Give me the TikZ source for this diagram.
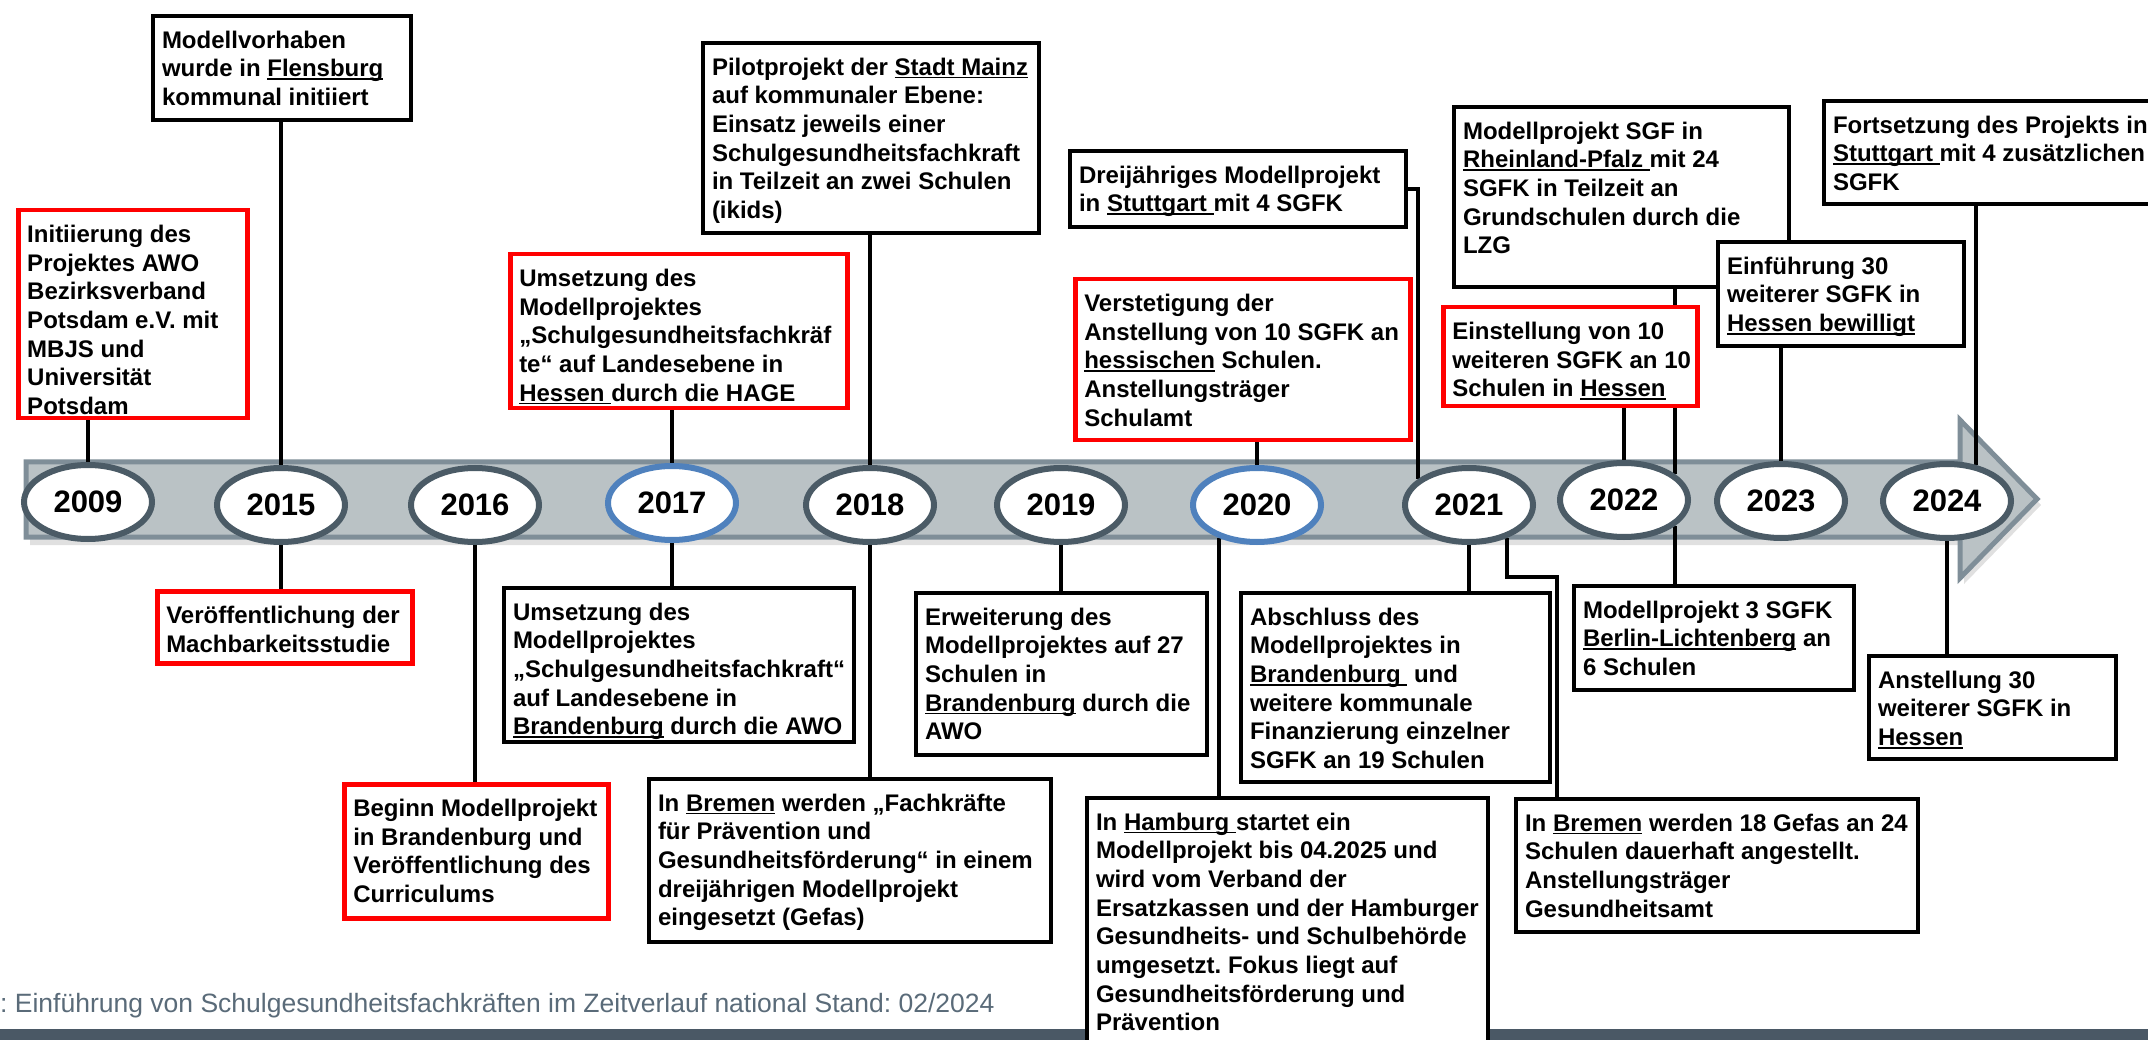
\documentclass[tikz,border=0pt]{standalone}
\usepackage{fontspec}
\setmainfont{Liberation Sans}
\usetikzlibrary{shapes.geometric}
\definecolor{band}{HTML}{BAC2C5}
\definecolor{bandedge}{HTML}{7F8E98}
\definecolor{ring}{HTML}{4B5B66}
\definecolor{ringblue}{HTML}{4F81BD}
\definecolor{capt}{HTML}{5A6B79}
\definecolor{foot}{HTML}{4A5865}
\definecolor{evred}{HTML}{FF0000}
\frenchspacing
\newsavebox\udbox
\newcommand{\ud}[1]{\sbox\udbox{#1}\leavevmode\usebox\udbox\llap{\raisebox{-3.2pt}{\rule{\wd\udbox}{1.6pt}}}}
\newcommand{\evtext}[3]{\parbox[c][#2pt][t]{#1pt}{\raggedright\leftskip=9pt\relax\vspace*{12pt}\strut #3}}
\pgfdeclarelayer{back}
\pgfdeclarelayer{lines}
\pgfsetlayers{back,lines,main}
\tikzset{
  ev/.style={draw=black, line width=4pt, fill=white, inner sep=0pt, anchor=north west,
    font=\bfseries\fontsize{24}{28.7}\selectfont},
  evr/.style={ev, draw=evred, line width=4.5pt},
  yr/.style={ellipse, draw=ring, line width=6pt, fill=white, minimum width=128pt,
    minimum height=74pt, inner sep=0pt, font=\bfseries\fontsize{31}{31}\selectfont},
  yrb/.style={yr, draw=ringblue},
  conn/.style={draw=black, line width=4pt},
}
\begin{document}
\begin{tikzpicture}[x=1pt,y=-1pt]
\useasboundingbox (0,0) rectangle (2148,1040);

% event boxes
\node[evr] (A) at (16,208) {\evtext{229}{208}{Initiierung des\\Projektes AWO\\Bezirksverband\\Potsdam e.V. mit\\MBJS und\\Universität\\Potsdam}};
\node[ev] (B) at (151,14) {\evtext{258}{104}{Modellvorhaben\\wurde in \ud{Flensburg}\\kommunal initiiert}};
\node[evr] (C) at (155,589) {\evtext{255}{72}{Veröffentlichung der\\Machbarkeitsstudie}};
\node[evr] (D) at (342,782) {\evtext{264}{134}{Beginn Modellprojekt\\in Brandenburg und\\Veröffentlichung des\\Curriculums}};
\node[evr] (E) at (508,252) {\evtext{337}{154}{Umsetzung des\\Modellprojektes\\„Schulgesundheitsfachkräf\\te“ auf Landesebene in\\\ud{Hessen }durch die HAGE}};
\node[ev] (F) at (502,586) {\evtext{350}{154}{Umsetzung des\\Modellprojektes\\„Schulgesundheitsfachkraft“\\auf Landesebene in\\\ud{Brandenburg} durch die AWO}};
\node[ev] (G) at (701,41) {\evtext{336}{190}{Pilotprojekt der \ud{Stadt Mainz}\\auf kommunaler Ebene:\\Einsatz jeweils einer\\Schulgesundheitsfachkraft\\in Teilzeit an zwei Schulen\\(ikids)}};
\node[ev] (H) at (647,777) {\evtext{402}{163}{In \ud{Bremen} werden „Fachkräfte\\für Prävention und\\Gesundheitsförderung“ in einem\\dreijährigen Modellprojekt\\eingesetzt (Gefas)}};
\node[ev] (I) at (914,591) {\evtext{291}{162}{Erweiterung des\\Modellprojektes auf 27\\Schulen in\\\ud{Brandenburg} durch die\\AWO}};
\node[ev] (J) at (1068,149) {\evtext{336}{76}{Dreijähriges Modellprojekt\\in \ud{Stuttgart }mit 4 SGFK}};
\node[evr] (K) at (1073,277) {\evtext{335}{161}{Verstetigung der\\Anstellung von 10 SGFK an\\\ud{hessischen} Schulen.\\Anstellungsträger\\Schulamt}};
\node[ev] (M) at (1239,591) {\evtext{309}{189}{Abschluss des\\Modellprojektes in\\\ud{Brandenburg } und\\weitere kommunale\\Finanzierung einzelner\\SGFK an 19 Schulen}};
\node[ev] (N) at (1514,797) {\evtext{402}{133}{In \ud{Bremen} werden 18 Gefas an 24\\Schulen dauerhaft angestellt.\\Anstellungsträger\\Gesundheitsamt}};
\node[ev] (P) at (1452,105) {\evtext{335}{180}{Modellprojekt SGF in\\\ud{Rheinland-Pfalz }mit 24\\SGFK in Teilzeit an\\Grundschulen durch die\\LZG}};
\node[evr] (O) at (1441,305) {\evtext{254}{99}{Einstellung von 10\\weiteren SGFK an 10\\Schulen in \ud{Hessen}}};
\node[ev] (Q) at (1572,584) {\evtext{280}{104}{Modellprojekt 3 SGFK\\\ud{Berlin-Lichtenberg} an\\6 Schulen}};
\node[ev] (R) at (1716,240) {\evtext{246}{104}{Einführung 30\\weiterer SGFK in\\\ud{Hessen bewilligt}}};
\node[ev] (S) at (1822,99) {\evtext{346}{103}{Fortsetzung des Projekts in\\\ud{Stuttgart }mit 4 zusätzlichen\\SGFK}};
\node[ev] (T) at (1867,654) {\evtext{247}{103}{Anstellung 30\\weiterer SGFK in\\\ud{Hessen}}};

% footer bar and caption
\node[ev] (L) at (1085,796) {\evtext{401}{270}{In \ud{Hamburg }startet ein\\Modellprojekt bis 04.2025 und\\wird vom Verband der\\Ersatzkassen und der Hamburger\\Gesundheits- und Schulbehörde\\umgesetzt. Fokus liegt auf\\Gesundheitsförderung und\\Prävention}};
\node[anchor=base west, inner sep=0pt, text=capt, font=\fontsize{26.5}{30}\selectfont] (cap) at (0,1012) {: Einführung von Schulgesundheitsfachkräften im Zeitverlauf national Stand: 02/2024};

% background, timeline band, footer
\begin{pgfonlayer}{back}
\fill[white] (0,0) rectangle (2148,1040);
\fill[foot] (0,1029) rectangle (2148,1045);
\fill[black, opacity=0.12] (30,468) -- (1964,468) -- (1964,426) -- (2041,505) -- (1964,584) -- (1964,545) -- (30,545) -- cycle;
\filldraw[fill=band, draw=bandedge, line width=5pt, line join=miter]
  (26,462) -- (1960,462) -- (1960,420) -- (2037,499) -- (1960,578) -- (1960,537) -- (26,537) -- cycle;
\end{pgfonlayer}

% year ellipses
\node[yr] (y2009) at (88,502) {2009};
\node[yr] (y2015) at (281,505) {2015};
\node[yr] (y2016) at (475,505) {2016};
\node[yrb] (y2017) at (672,503) {2017};
\node[yr] (y2018) at (870,505) {2018};
\node[yr] (y2019) at (1061,505) {2019};
\node[yrb] (y2020) at (1257,505) {2020};
\node[yr] (y2021) at (1469,505) {2021};
\node[yr] (y2022) at (1624,500) {2022};
\node[yr] (y2023) at (1781,501) {2023};
\node[yr] (y2024) at (1947,501) {2024};

% connectors
\begin{pgfonlayer}{lines}
\draw[conn] (y2009.north |- A.south) -- (y2009.north);
\draw[conn] (y2015.north |- B.south) -- (y2015.north);
\draw[conn] (y2015.south) -- (y2015.south |- C.north);
\draw[conn] (y2016.south) -- (y2016.south |- D.north);
\draw[conn] (y2017.north |- E.south) -- (y2017.north);
\draw[conn] (y2017.south) -- (y2017.south |- F.north);
\draw[conn] (y2018.north |- G.south) -- (y2018.north);
\draw[conn] (y2018.south) -- (y2018.south |- H.north);
\draw[conn] (y2019.south) -- (y2019.south |- I.north);
\draw[conn] (J.east) -| (y2021.153);
\draw[conn] (y2020.north |- K.south) -- (y2020.north);
\draw[conn] (y2020.221) -- (y2020.221 |- L.north);
\draw[conn] (y2021.south) -- (y2021.south |- M.north);
\coordinate (bendN) at (1557,577);
\draw[conn] (y2021.319) |- (bendN) -- (bendN |- N.north);
\draw[conn] (y2022.north |- O.south) -- (y2022.north);
\draw[conn] (y2022.27 |- P.south) -- (y2022.27);
\draw[conn] (y2022.333) -- (y2022.333 |- Q.north);
\draw[conn] (y2023.north |- R.south) -- (y2023.north);
\draw[conn] (y2024.51 |- S.south) -- (y2024.51);
\draw[conn] (y2024.south) -- (y2024.south |- T.north);
\end{pgfonlayer}
\end{tikzpicture}
\end{document}
